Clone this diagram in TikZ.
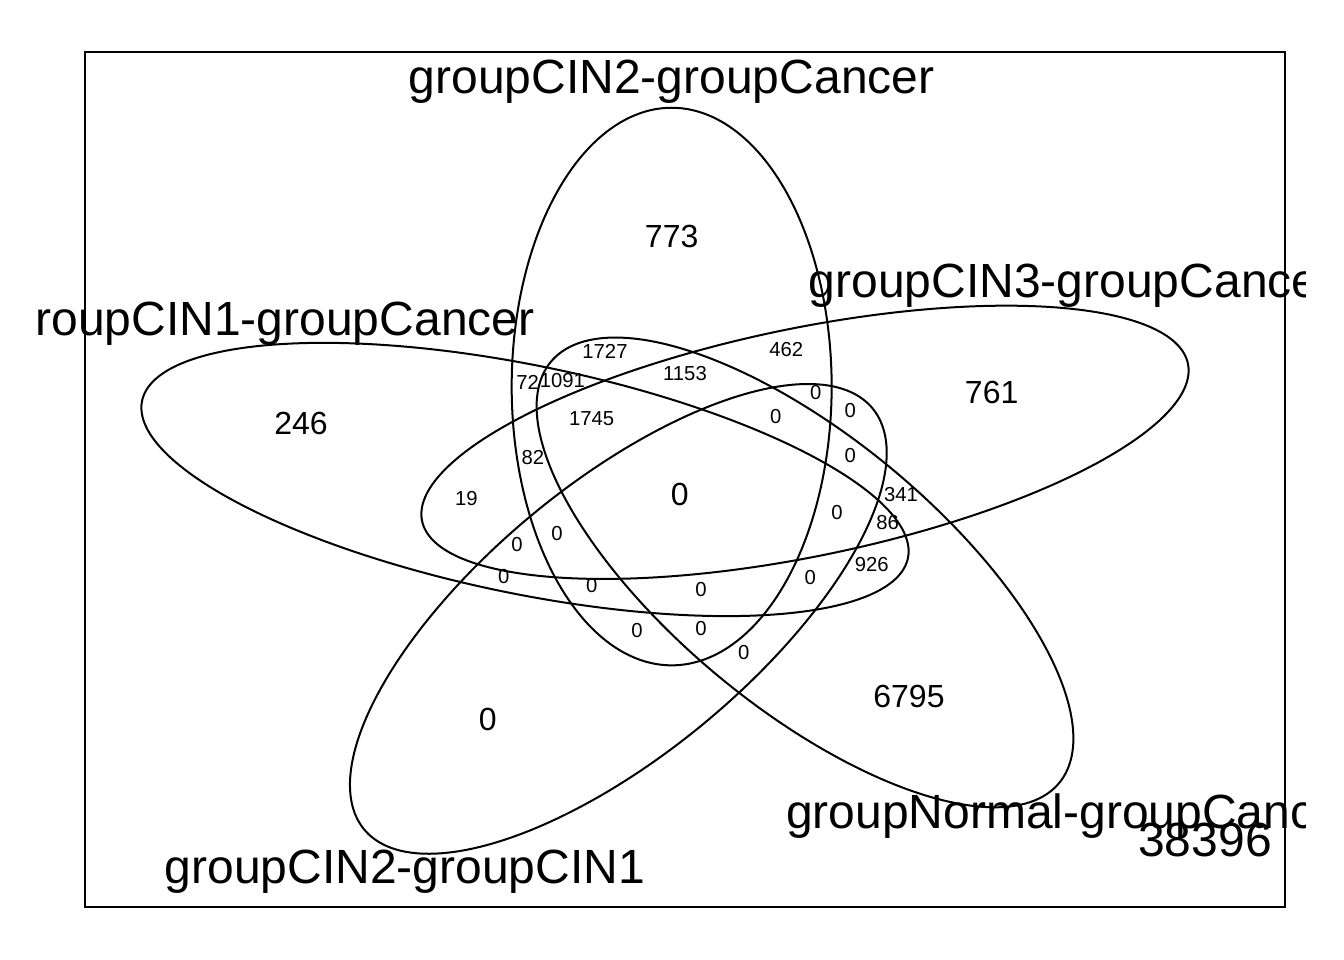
\documentclass[tikz,border=0pt]{standalone}
\usepackage{fontspec}
\setmainfont{Liberation Sans}

\tikzset{
  venn/.style={line width=0.75pt, line join=round},
  setlabel/.style={font=\fontsize{18}{18}\selectfont},
  midcount/.style={font=\fontsize{12}{12}\selectfont},
  smallcount/.style={font=\fontsize{7.6}{7.6}\selectfont}
}

\begin{document}
\begin{tikzpicture}[x=1pt, y=0.697011pt, inner sep=0pt]
	\useasboundingbox (-51.875,-58.515) rectangle (452.125,457.97);
	\draw[line width=0.75pt] (-20,-30) rectangle (430,430);
	% the five ellipses: angle / centre
	\foreach \a/\cx/\cy in {90/200/250, 162/250/220, 234/250/150, 306/180/125, 378/145/200}
	\draw[venn] plot[domain=0:360, samples=241, variable=\t]
		({\cx + 150*cos(\t)*cos(\a) + 60*sin(\t)*sin(\a)},
		 {\cy - 150*cos(\t)*sin(\a) + 60*sin(\t)*cos(\a)}) -- cycle;
	% set names
	\begin{scope}
		\clip (-38,-58.515) rectangle (437.5,457.97);
		\node[setlabel] (cinone) at (50,284) {groupCIN1-groupCancer};
		\node[setlabel] (cintwo) at (200,414) {groupCIN2-groupCancer};
		\node[setlabel] (cinthree) at (350,304) {groupCIN3-groupCancer};
		\node[setlabel] (normal) at (350,19) {groupNormal-groupCancer};
		\node[setlabel] (twoone) at (100,-11) {groupCIN2-groupCIN1};
	\end{scope}
	% counts
	\node[midcount] (only1) at (61,230) {246};
	\node[midcount] (only2) at (200,331) {773};
	\node[midcount] (only3) at (320,247) {761};
	\node[midcount] (only4) at (289,83) {6795};
	\node[midcount] (only5) at (131,71) {0};
	\node[midcount] (all) at (203,192) {0};
	\node[setlabel] (none) at (400,6) {38396};
	\foreach \x/\y/\n [count=\i] in {175/269/1727, 243/270/462, 205/257/1153, 146/252/72,
		159/253/1091, 170/233/1745, 148/212/82, 123/190/19, 254/247/0, 267/237/0,
		239/234/0, 267/213/0, 286/192/341, 281/177/86, 262/182/0, 275/154/926,
		252/147/0, 142/165/0, 157/171/0, 137/148/0, 170/143/0, 211/141/0,
		187/119/0, 211/120/0, 227/107/0}
	\node[smallcount] (c\i) at (\x,\y) {\n};
\end{tikzpicture}
\end{document}
